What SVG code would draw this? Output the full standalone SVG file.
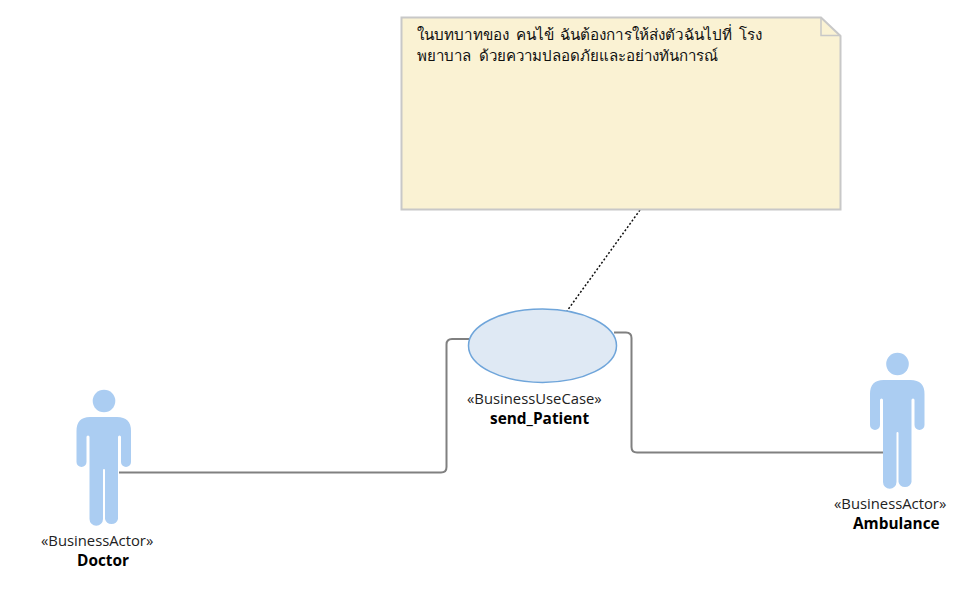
<svg xmlns="http://www.w3.org/2000/svg" width="956" height="610" viewBox="0 0 956 610">
<style>
text{font-family:"Open Sans","Noto Sans",sans-serif;font-size:14.8px;fill:#222}
.name{font-weight:700;fill:#000;font-size:15.4px}
.note{font-family:"Noto Sans","Noto Sans CJK SC",sans-serif;font-size:15.25px;fill:#111}
.actor{fill:#abcdf2}
.conn{fill:none;stroke:#808080;stroke-width:2}
</style>
<defs>
<g id="actor-figure">
<circle class="actor" cx="104" cy="401" r="11.3"/>
<path class="actor" d="M90 417H117Q131 417 131 431V462A5 5 0 0 1 121 462V437A1.500 1.500 0 0 0 118 437V519A6.700 6.700 0 0 1 105 519V470A1 1 0 0 0 103 470V519A6.700 6.700 0 0 1 89.500 519V437A1.500 1.500 0 0 0 86.500 437V462A5 5 0 0 1 76.500 462V431Q76.500 417 90 417Z"/>
</g>
</defs>
<rect width="956" height="610" fill="#fff"/>
<g id="connectors">
<path class="conn" d="M119 472.500H441Q446.500 472.500 446.500 467V344.500Q446.500 339 452 339H469"/>
<path class="conn" d="M614 332.500H626Q631.500 332.500 631.500 338V447Q631.500 452.500 637 452.500H884"/>
<path d="M640 210L567 311" fill="none" stroke="#111" stroke-width="1.500" stroke-dasharray="2 2"/>
</g>
<g id="note">
<path d="M401.500 17.500H821L840.500 36V209.500H401.500Z" fill="#faf2d3" stroke="#c8c8c8" stroke-width="2"/>
<path d="M821 17.500V35.500H840.500" fill="none" stroke="#c8c8c8" stroke-width="1.500"/>
<text class="note" x="417" y="40" word-spacing="2.700">ในบทบาทของ คนไข้ ฉันต้องการให้ส่งตัวฉันไปที่ โรง</text>
<text class="note" x="417" y="61" word-spacing="4" style="font-size:15.100px">พยาบาล ด้วยความปลอดภัยและอย่างทันการณ์</text>
</g>
<g id="use-case">
<ellipse cx="542.500" cy="345.700" rx="74" ry="36.700" fill="#dfe9f4" stroke="#6fa5da" stroke-width="1.500"/>
<text x="467" y="404">«BusinessUseCase»</text>
<text class="name" x="490" y="424">send_Patient</text>
</g>
<g id="doctor">
<use href="#actor-figure"/>
<text x="41" y="546">«BusinessActor»</text>
<text class="name" x="77" y="566">Doctor</text>
</g>
<g id="ambulance">
<use href="#actor-figure" transform="translate(793.500 -37)"/>
<text x="834" y="509">«BusinessActor»</text>
<text class="name" x="853" y="529">Ambulance</text>
</g>
</svg>
